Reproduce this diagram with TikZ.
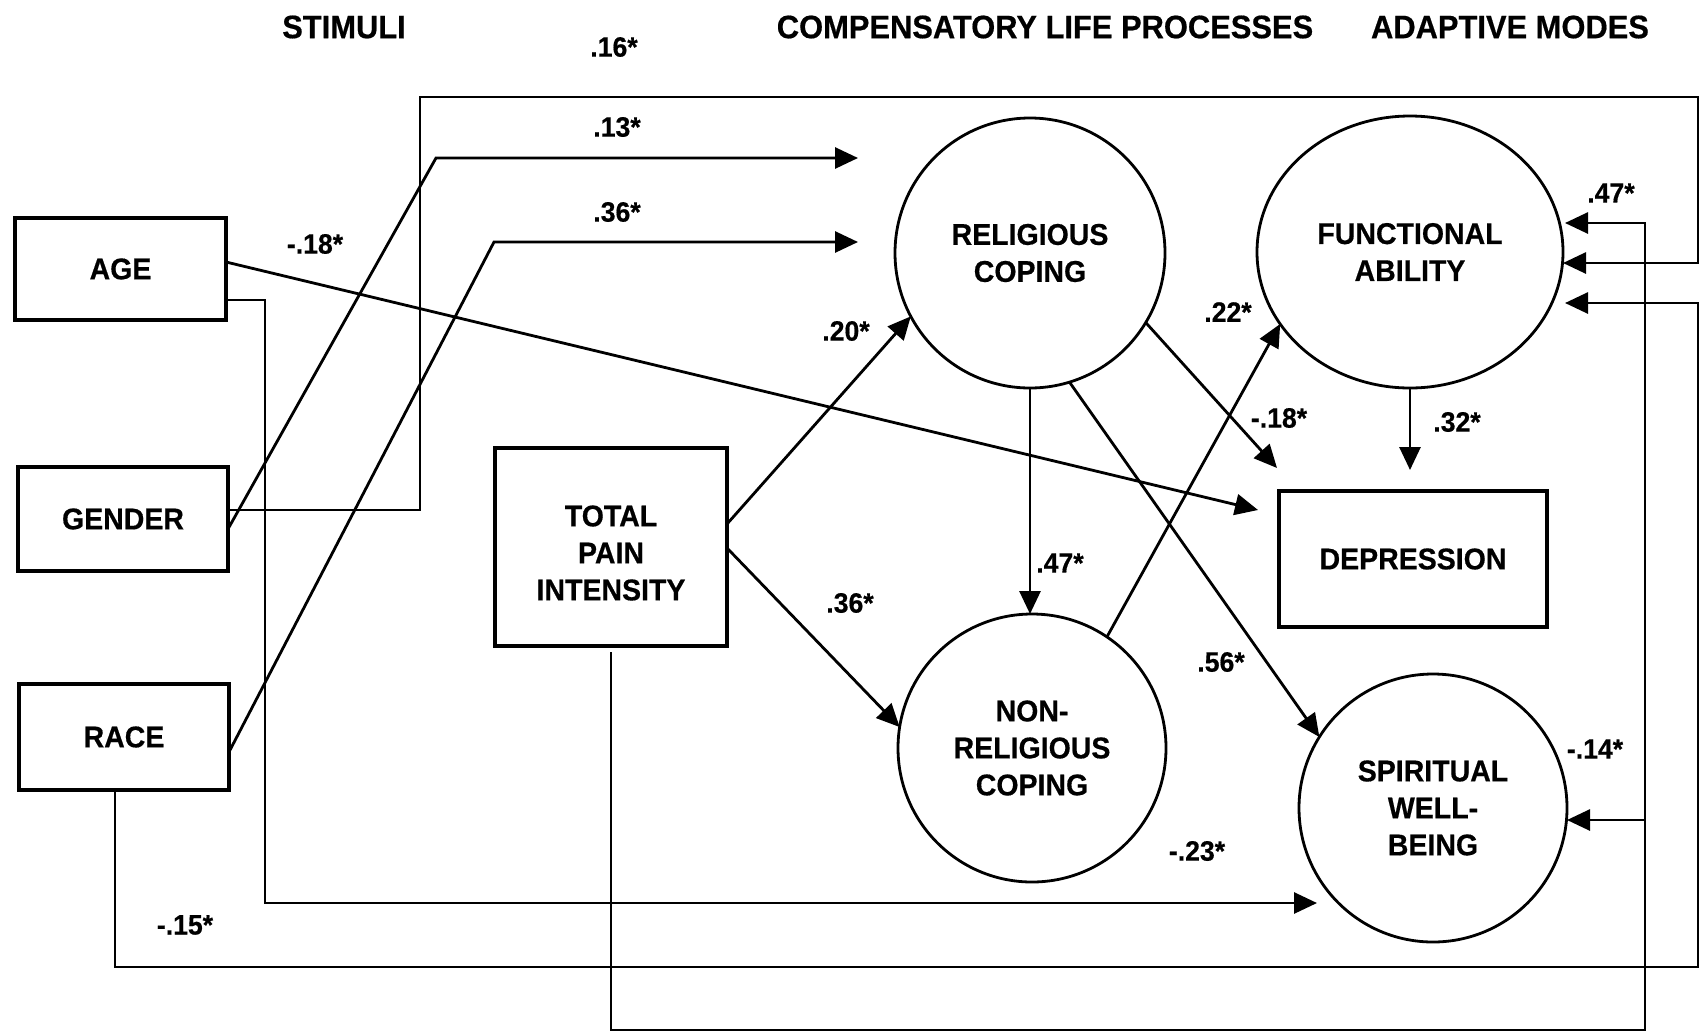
\documentclass[tikz,border=0pt]{standalone}
\usepackage{fontspec}
\setmainfont{Liberation Sans}[BoldFeatures={FakeStretch=0.95,FakeBold=0.5}]
\usetikzlibrary{arrows.meta,shapes.geometric,calc}
\begin{document}
\begin{tikzpicture}[x=1pt,y=-1pt,
  font=\fontsize{30}{37}\selectfont\bfseries,
  box/.style={draw,line width=3.2pt,rectangle,inner sep=0pt,outer sep=0pt,align=center},
  circ/.style={draw,line width=2.8pt,ellipse,inner sep=0pt,outer sep=0pt,align=center},
  conn/.style={line width=2.8pt},
  arr/.style={conn,-{Triangle[length=23pt,width=21pt]}},
  lbl/.style={inner sep=0pt,font=\fontsize{28}{32}\selectfont\bfseries},
  ttl/.style={inner sep=0pt,font=\fontsize{32.5}{38}\selectfont\bfseries}]
\useasboundingbox (0,0) rectangle (1702,1034);

% titles
\node[ttl] (t1) at (344,27) {STIMULI};
\node[ttl] (t2) at (1045,27) {COMPENSATORY LIFE PROCESSES};
\node[ttl] (t3) at (1510,27) {ADAPTIVE MODES};

% boxes
\node[box,minimum width=211pt,minimum height=102pt] (age) at (120.5,269) {AGE};
\node[box,minimum width=210pt,minimum height=104pt] (gender) at (123,519) {GENDER};
\node[box,minimum width=210pt,minimum height=106pt] (race) at (124,737) {RACE};
\node[box,minimum width=232pt,minimum height=198pt,
  label={[align=center,inner sep=0pt,yshift=-6pt]center:TOTAL\\PAIN\\INTENSITY}] (tpi) at (611,547) {};
\node[box,minimum width=268pt,minimum height=136pt] (dep) at (1413,559) {DEPRESSION};

% circles
\node[circ,minimum width=270pt,minimum height=270pt] (rc) at (1030,253) {RELIGIOUS\\COPING};
\node[circ,minimum width=306pt,minimum height=272pt] (fa) at (1410,252) {FUNCTIONAL\\ABILITY};
\node[circ,minimum width=268pt,minimum height=268pt] (nrc) at (1032,748) {NON-\\RELIGIOUS\\COPING};
\node[circ,minimum width=268pt,minimum height=268pt] (swb) at (1433,808) {SPIRITUAL\\WELL-\\BEING};

% named coordinates
\coordinate (br) at (1645,820);

% connectors
\draw[arr] ($(gender.east)+(0,10)$) -- (436,158) -- ($(rc.west)+(-37,-95)$);
\draw[arr] ($(race.east)+(0,15)$) -- (494,242) -- ($(rc.west)+(-37,-11)$);
\draw[arr] ($(gender.east)+(0,-9)$) -- (420,510) |- (1698,97) |- ($(fa.east)+(0,11)$);
\draw[arr] ($(race.south)+(-9,0)$) |- (1698,967) |- ($(fa.east)+(2,51)$);
\draw[arr] ($(tpi.south)+(0,6)$) |- (1645,1030) |- ($(fa.east)+(2,-29)$);
\draw[arr] (br) -- ($(swb.east)+(0,12)$);
\draw[arr] ($(age.east)+(0,-7)$) -- ($(dep.west)+(-21,-49)$);
\draw[arr] ($(age.east)+(0,31)$) -- (265,300) |- ($(swb.center)+(-116,95)$);
\draw[arr] ($(tpi.east)+(0,-23)$) -- (rc.208);
\draw[arr] ($(tpi.east)+(0,1)$) -- (nrc.171);
\draw[arr] (rc.south) -- (rc.south |- nrc.north);
\draw[arr] (rc.-73) -- (swb.148);
\draw[arr] (rc.-31) -- ($(dep.north west)+(-2,-23)$);
\draw[arr] (nrc.56) -- (fa.209);
\draw[arr] (fa.south) -- ($(fa.south |- dep.north)+(0,-21)$);

% labels
\node[lbl] (l1) at (614,47) {.16*};
\node[lbl] (l2) at (617,127) {.13*};
\node[lbl] (l3) at (617,212) {.36*};
\node[lbl] (l4) at (315,244) {-.18*};
\node[lbl] (l5) at (846,331) {.20*};
\node[lbl] (l6) at (850,603) {.36*};
\node[lbl] (l7) at (1060,563) {.47*};
\node[lbl] (l8) at (1228,312) {.22*};
\node[lbl] (l9) at (1279,418) {-.18*};
\node[lbl] (l10) at (1457,422) {.32*};
\node[lbl] (l11) at (1611,193) {.47*};
\node[lbl] (l12) at (1221,662) {.56*};
\node[lbl] (l13) at (1595,749) {-.14*};
\node[lbl] (l14) at (1197,851) {-.23*};
\node[lbl] (l15) at (185,925) {-.15*};
\end{tikzpicture}
\end{document}
